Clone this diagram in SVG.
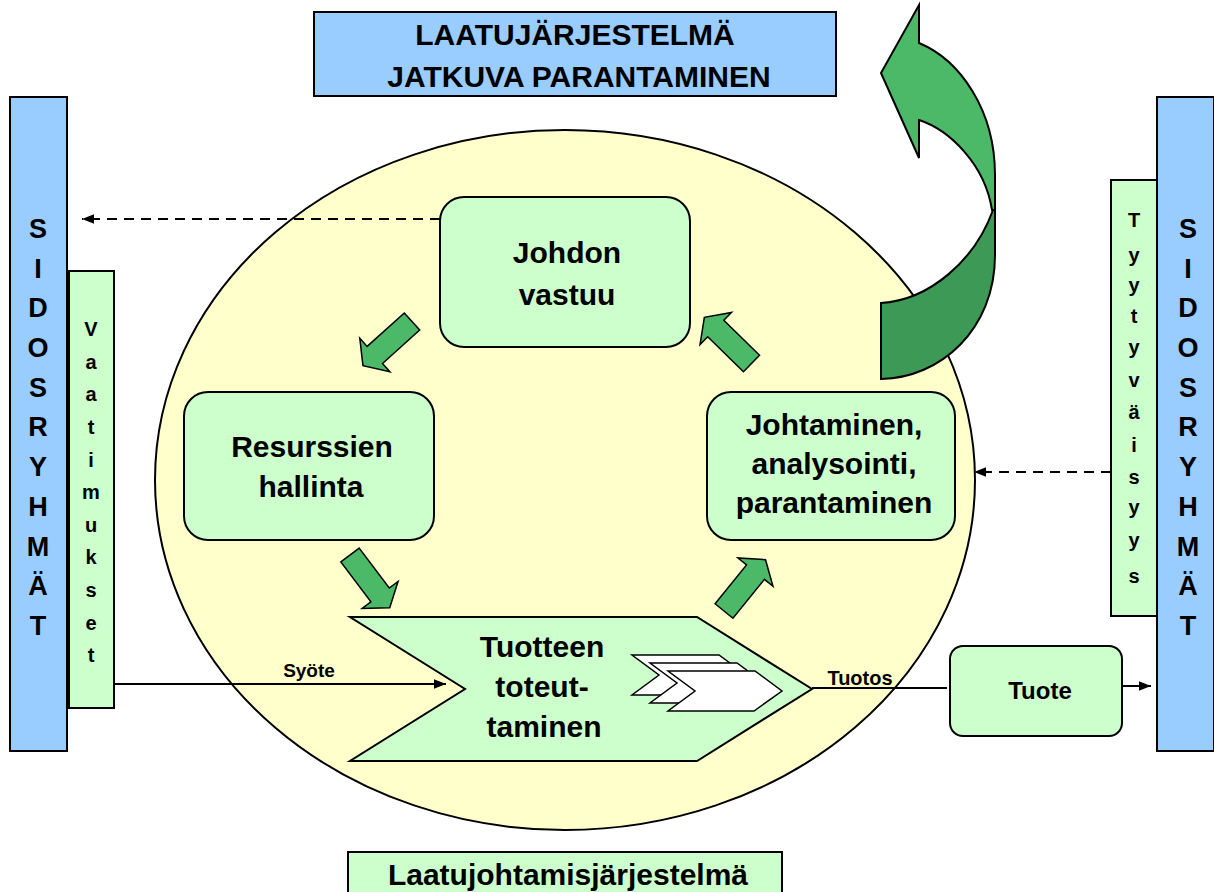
<svg xmlns="http://www.w3.org/2000/svg" width="1214" height="892" viewBox="0 0 1214 892">
<style>
.t{font-family:"Liberation Sans",Arial,sans-serif;font-weight:bold;fill:#000;text-anchor:middle}
.blue{fill:#99CCFF;stroke:#000;stroke-width:2}
.lg{fill:#CCFFCC;stroke:#000;stroke-width:2}
.ga{fill:#4CB968;stroke:#000;stroke-width:1.5;stroke-linejoin:miter}
.dash{fill:none;stroke:#000;stroke-width:2;stroke-dasharray:10,7}
.solid{fill:none;stroke:#000;stroke-width:2}
.wh{fill:#fff;stroke:#000;stroke-width:1.5}
</style>
<defs>
<path id="blk" d="M0,-11.5 H50 V-22.5 L66,0 L50,22.5 V11.5 H0 Z"/>
<marker id="ah" viewBox="0 0 10 10" refX="10" refY="5" markerWidth="6" markerHeight="6" orient="auto" markerUnits="strokeWidth">
<path d="M0,1 L10,5 L0,9 Z" fill="#000"/>
</marker>
<path id="chev" d="M0,0 H87 L114,20 L86,40 H0 L27,20 Z"/>
</defs>

<g id="ellipse-system">
<ellipse cx="565" cy="480" rx="410" ry="350" fill="#FFFFCC" stroke="#000" stroke-width="2"/>
</g>

<g id="curved-arrow">
<path d="M993,210 L995,210 L995,255 C995,330 940,378 881,379 L881,303 C930,300 975,260 993,210 Z" fill="#3C9A56" stroke="#000" stroke-width="2"/>
<path d="M919,120 L919,158 L881,73 L919,5 L919,43 C960,60 995,110 995,175 L995,210 L992,210 C985,165 950,130 919,120 Z" fill="#4CB968" stroke="#000" stroke-width="2" stroke-linejoin="miter"/>
</g>

<g id="top-title">
<rect x="314" y="12" width="522" height="84" class="blue"/>
<text class="t" x="575" y="45" font-size="30">LAATUJÄRJESTELMÄ</text>
<text class="t" x="579" y="87" font-size="30">JATKUVA PARANTAMINEN</text>
</g>

<g id="left-stakeholders">
<rect x="10" y="97" width="57" height="654" class="blue"/>
<text class="t" font-size="27" x="38">
<tspan x="38" y="238">S</tspan><tspan x="38" y="278">I</tspan><tspan x="38" y="317">D</tspan><tspan x="38" y="357">O</tspan><tspan x="38" y="397">S</tspan><tspan x="38" y="436">R</tspan><tspan x="38" y="476">Y</tspan><tspan x="38" y="516">H</tspan><tspan x="38" y="556">M</tspan><tspan x="38" y="595">Ä</tspan><tspan x="38" y="635">T</tspan>
</text>
</g>

<g id="vaatimukset">
<rect x="69" y="271" width="45" height="437" class="lg"/>
<text class="t" font-size="20" x="91">
<tspan x="91" y="336">V</tspan><tspan x="91" y="369">a</tspan><tspan x="91" y="401">a</tspan><tspan x="91" y="434">t</tspan><tspan x="91" y="467">i</tspan><tspan x="91" y="499">m</tspan><tspan x="91" y="532">u</tspan><tspan x="91" y="564">k</tspan><tspan x="91" y="597">s</tspan><tspan x="91" y="630">e</tspan><tspan x="91" y="662">t</tspan>
</text>
</g>

<g id="right-stakeholders">
<rect x="1157" y="97" width="57" height="654" class="blue"/>
<text class="t" font-size="27" x="1188">
<tspan x="1188" y="238">S</tspan><tspan x="1188" y="278">I</tspan><tspan x="1188" y="317">D</tspan><tspan x="1188" y="357">O</tspan><tspan x="1188" y="397">S</tspan><tspan x="1188" y="436">R</tspan><tspan x="1188" y="476">Y</tspan><tspan x="1188" y="516">H</tspan><tspan x="1188" y="556">M</tspan><tspan x="1188" y="595">Ä</tspan><tspan x="1188" y="635">T</tspan>
</text>
</g>

<g id="tyytyvaisyys">
<rect x="1111" y="180" width="46" height="436" class="lg"/>
<text class="t" font-size="20" x="1134">
<tspan x="1134" y="227">T</tspan><tspan x="1134" y="262">y</tspan><tspan x="1134" y="292">y</tspan><tspan x="1134" y="323">t</tspan><tspan x="1134" y="354">y</tspan><tspan x="1134" y="387">v</tspan><tspan x="1134" y="419">ä</tspan><tspan x="1134" y="452">i</tspan><tspan x="1134" y="484">s</tspan><tspan x="1134" y="514">y</tspan><tspan x="1134" y="547">y</tspan><tspan x="1134" y="583">s</tspan>
</text>
</g>

<g id="johdon-vastuu">
<rect x="440" y="197" width="250" height="150" rx="24" class="lg"/>
<text class="t" x="567" y="263" font-size="30">Johdon</text>
<text class="t" x="567" y="305" font-size="30">vastuu</text>
</g>

<g id="resurssien-hallinta">
<rect x="184" y="392" width="250" height="148" rx="24" class="lg"/>
<text class="t" x="312" y="457" font-size="30">Resurssien</text>
<text class="t" x="311" y="497" font-size="30">hallinta</text>
</g>

<g id="johtaminen">
<rect x="707" y="392" width="248" height="148" rx="24" class="lg"/>
<text class="t" x="834" y="435" font-size="30">Johtaminen,</text>
<text class="t" x="834" y="474" font-size="30">analysointi,</text>
<text class="t" x="834" y="513" font-size="30">parantaminen</text>
</g>

<g id="tuotteen-toteuttaminen">
<path d="M350,617 H697 L812,689 L697,761 H350 L465,689 Z" class="lg"/>
<text class="t" x="542" y="657" font-size="30">Tuotteen</text>
<text class="t" x="542" y="697" font-size="30">toteut-</text>
<text class="t" x="544" y="737" font-size="30">taminen</text>
<use href="#chev" x="632" y="655" class="wh"/>
<use href="#chev" x="650" y="663" class="wh"/>
<use href="#chev" x="668" y="671" class="wh"/>
</g>

<g id="tuote">
<rect x="950" y="646" width="172" height="90" rx="13" class="lg"/>
<text class="t" x="1040" y="699" font-size="24">Tuote</text>
</g>

<g id="laatujohtamisjarjestelma">
<rect x="348" y="852" width="434" height="50" class="lg"/>
<text class="t" x="568" y="885" font-size="30">Laatujohtamisjärjestelmä</text>
</g>

<g id="connectors">
<use href="#blk" class="ga" transform="translate(412,321.5) rotate(138)"/>
<use href="#blk" class="ga" transform="translate(350,555) rotate(53)"/>
<use href="#blk" class="ga" transform="translate(724,611) rotate(-51)"/>
<use href="#blk" class="ga" transform="translate(751.5,363.5) rotate(224.4)"/>
<line x1="440" y1="219" x2="82" y2="219" class="dash" marker-end="url(#ah)"/>
<line x1="1111" y1="472" x2="974" y2="472" class="dash" marker-end="url(#ah)"/>
<line x1="114" y1="684" x2="446" y2="684" class="solid" marker-end="url(#ah)"/>
<line x1="812" y1="688" x2="947" y2="688" class="solid"/>
<line x1="1122" y1="686" x2="1151" y2="686" class="solid" marker-end="url(#ah)"/>
<text class="t" x="309" y="677" font-size="19">Syöte</text>
<text class="t" x="860" y="685" font-size="20">Tuotos</text>
</g>
</svg>
